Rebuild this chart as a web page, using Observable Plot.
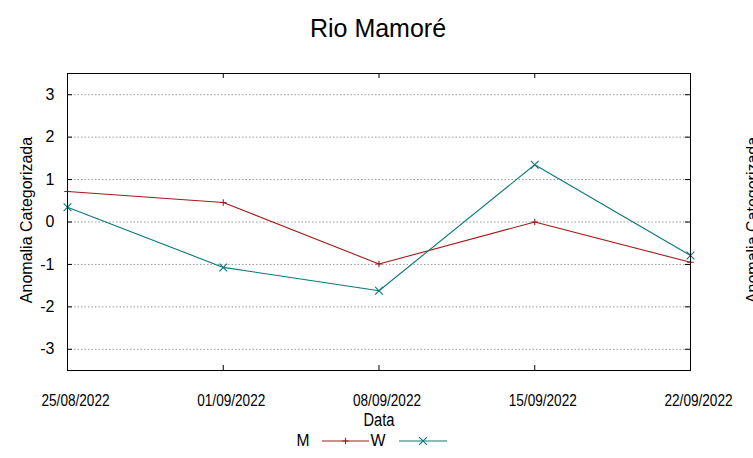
<!DOCTYPE html>
<html><head><meta charset="utf-8">
<script src="https://cdn.jsdelivr.net/npm/d3@7"></script>
<script src="https://cdn.jsdelivr.net/npm/@observablehq/plot@0.6"></script>
<style>
body{margin:0;background:#fff;}
#chart{width:753px;height:458px;overflow:hidden;}
</style></head><body><div id="chart"></div>
<script>
const dates = ["25/08/2022","01/09/2022","08/09/2022","15/09/2022","22/09/2022"];
const seriesNames = ["M","W"];
const valuesM = [0.72, 0.46, -0.99, 0.00, -0.95];
const valuesW = [0.35, -1.07, -1.62, 1.35, -0.79];
const yTicks = [-3,-2,-1,0,1,2,3];
const yDomain = [-3.5, 3.5];
const colors = ["#a31a1a", "#0a7878"];
const titleText = "Rio Mamoré";
const yLabel = "Anomalia Categorizada";
const xLabel = "Data";

const parse = d3.utcParse("%d/%m/%Y");
const fmt = d3.utcFormat("%d/%m/%Y");
const xTicks = dates.map(parse);
const data = [
  ...dates.map((d,i)=>({date:parse(d), value:valuesM[i], s:"M"})),
  ...dates.map((d,i)=>({date:parse(d), value:valuesW[i], s:"W"}))
];
const sans = "'Liberation Sans', Arial, sans-serif";
const fw = 753 - 67 - 63;
const fh = 458 - 73 - 88;

const plot = Plot.plot({
  width: 753, height: 458,
  marginTop: 73, marginBottom: 88, marginLeft: 67, marginRight: 63,
  style: {fontFamily: sans, background: "white", color: "black", overflow: "hidden"},
  x: {type: "utc", domain: [xTicks[0], xTicks[xTicks.length-1]]},
  y: {domain: yDomain},
  color: {domain: seriesNames, range: colors},
  marks: [
    Plot.gridY(yTicks, {stroke: "#9a9a9a", strokeOpacity: 1, strokeDasharray: "1.5,2", strokeWidth: 1}),
    Plot.tickY(yTicks, {y: d=>d, stroke: "black", insetRight: fw - 5}),
    Plot.tickY(yTicks, {y: d=>d, stroke: "black", insetLeft: fw - 5}),
    Plot.tickX(xTicks, {x: d=>d, stroke: "black", insetBottom: fh - 5}),
    Plot.tickX(xTicks, {x: d=>d, stroke: "black", insetTop: fh - 5}),
    Plot.axisY(yTicks, {tickSize: 0, tickPadding: 13, fontSize: 16, tickFormat: d => String(d), label: null}),
    Plot.axisX(xTicks, {tickSize: 0, tickPadding: 24, dx: 8, fontSize: 16, tickFormat: fmt, label: null, className: "xtl"}),
    Plot.text([yLabel], {frameAnchor: "left", rotate: -90, dx: -41, dy: -2, fontSize: 16, textAnchor: "middle", lineAnchor: "middle"}),
    Plot.text([yLabel], {frameAnchor: "right", rotate: -90, dx: 56, dy: -2, fontSize: 16, textAnchor: "middle", lineAnchor: "top"}),
    Plot.text([xLabel], {frameAnchor: "bottom", dy: 43, fontSize: 18, lineAnchor: "top", className: "xlab"}),
    Plot.line(data, {x: "date", y: "value", stroke: "s", strokeWidth: 1.1, z: "s"}),
    Plot.dot(data.filter(d=>d.s==="M"), {x: "date", y: "value", stroke: "s", symbol: "plus", r: 2.3, strokeWidth: 1.1}),
    Plot.dot(data.filter(d=>d.s==="W"), {x: "date", y: "value", stroke: "s", symbol: "times", r: 3.6, strokeWidth: 1.1}),
    Plot.frame({stroke: "black", strokeWidth: 1})
  ]
});
document.getElementById("chart").appendChild(plot);

const svg = d3.select(plot);
// condensed (narrow) look of the gnuplot labels
svg.selectAll(".xtl text").attr("textLength", 68).attr("lengthAdjust", "spacingAndGlyphs");
svg.selectAll(".xlab text").attr("textLength", 31).attr("lengthAdjust", "spacingAndGlyphs");

svg.append("text").attr("x", 378).attr("y", 37).attr("text-anchor", "middle")
  .attr("font-family", sans).attr("font-size", 25).attr("fill", "black").text(titleText);

const leg = svg.append("g").attr("font-family", sans).attr("font-size", 16);
const legItems = [
  {name: seriesNames[0], tx: 303, w: 13, x1: 322, x2: 369, sym: d3.symbolPlus, size: 16, color: colors[0]},
  {name: seriesNames[1], tx: 378, w: 15, x1: 399, x2: 447, sym: d3.symbolTimes, size: 42, color: colors[1]}
];
const ly = 441;
legItems.forEach(it => {
  leg.append("text").attr("x", it.tx).attr("y", ly + 5).attr("text-anchor", "middle").attr("fill", "black")
    .attr("textLength", it.w).attr("lengthAdjust", "spacingAndGlyphs").text(it.name);
  leg.append("line").attr("x1", it.x1).attr("x2", it.x2).attr("y1", ly).attr("y2", ly).attr("stroke", it.color).attr("stroke-width", 1.1);
  leg.append("path").attr("transform", `translate(${(it.x1+it.x2)/2},${ly})`)
    .attr("d", d3.symbol(it.sym, it.size)())
    .attr("fill", "none").attr("stroke", it.color).attr("stroke-width", 1.1);
});
</script>
</body></html>
